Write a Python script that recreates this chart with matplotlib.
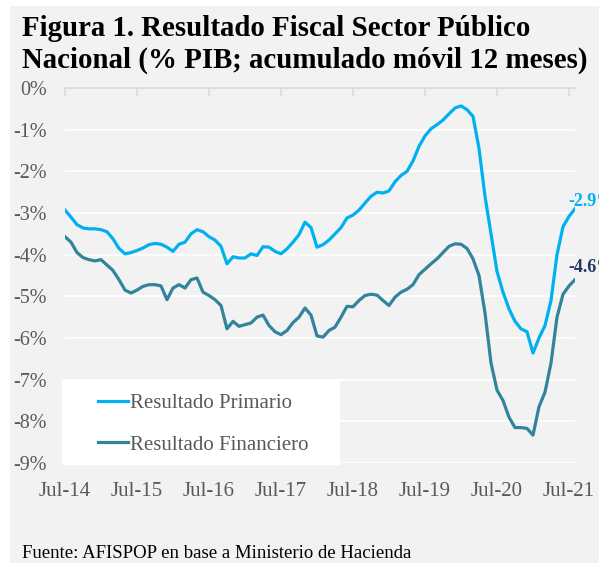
import matplotlib.pyplot as plt
import matplotlib as mpl
import numpy as np
from matplotlib.patches import Rectangle

plt.rcParams['font.family'] = ['Liberation Serif', 'DejaVu Serif']
plt.rcParams['axes.unicode_minus'] = False

# monthly, Jul-14 .. Aug-21 (% of GDP, 12-month rolling)
primario = [-2.93, -3.10, -3.28, -3.36, -3.38, -3.38, -3.40, -3.45, -3.62, -3.85,
            -3.98, -3.95, -3.90, -3.84, -3.76, -3.73, -3.75, -3.82, -3.92, -3.75,
            -3.70, -3.50, -3.40, -3.45, -3.57, -3.65, -3.80, -4.22, -4.05, -4.08,
            -4.08, -3.98, -4.02, -3.81, -3.82, -3.92, -3.98, -3.86, -3.70, -3.52,
            -3.22, -3.35, -3.82, -3.76, -3.65, -3.50, -3.35, -3.12, -3.05, -2.93,
            -2.76, -2.60, -2.50, -2.52, -2.47, -2.25, -2.10, -2.00, -1.75, -1.40,
            -1.15, -0.98, -0.88, -0.77, -0.62, -0.48, -0.43, -0.52, -0.68, -1.45,
            -2.60, -3.50, -4.40, -4.90, -5.30, -5.60, -5.78, -5.85, -6.36, -6.00,
            -5.70, -5.10, -4.00, -3.33, -3.08, -2.90]
financiero = [-3.57, -3.70, -3.95, -4.07, -4.12, -4.15, -4.12, -4.25, -4.38, -4.60,
              -4.85, -4.92, -4.85, -4.76, -4.72, -4.72, -4.75, -5.08, -4.80, -4.72,
              -4.80, -4.60, -4.56, -4.90, -4.98, -5.08, -5.22, -5.78, -5.60, -5.72,
              -5.68, -5.64, -5.50, -5.45, -5.70, -5.85, -5.92, -5.82, -5.63, -5.50,
              -5.28, -5.45, -5.95, -5.98, -5.82, -5.74, -5.50, -5.24, -5.25, -5.10,
              -4.98, -4.95, -4.97, -5.10, -5.22, -5.02, -4.90, -4.83, -4.72, -4.48,
              -4.35, -4.22, -4.10, -3.95, -3.80, -3.74, -3.75, -3.85, -4.10, -4.50,
              -5.40, -6.60, -7.25, -7.50, -7.90, -8.15, -8.15, -8.17, -8.33, -7.65,
              -7.30, -6.60, -5.50, -4.95, -4.75, -4.60]
tick_labels = ['Jul-14', 'Jul-15', 'Jul-16', 'Jul-17', 'Jul-18', 'Jul-19', 'Jul-20', 'Jul-21']
y_ticks = list(range(0, -10, -1))
end_labels = ['-2.9%', '-4.6%']

c_prim = '#00b0f0'
c_fin = '#31849b'
c_txt = '#595959'
W, H = 599, 563

fig = plt.figure(figsize=(W / 100, H / 100), dpi=100)
fig.patches.append(Rectangle((10 / W, 0), 1, 1 - 6 / H, transform=fig.transFigure,
                             facecolor='#f2f2f2', edgecolor='none', zorder=-10))

ax = fig.add_axes([65 / W, 1 - 463 / H, 510 / W, 375 / H])
ax.set_facecolor('none')

x = np.arange(len(primario))
l1, = ax.plot(x, primario, color=c_prim, lw=2.3, solid_joinstyle='round', zorder=3)
l2, = ax.plot(x, financiero, color=c_fin, lw=2.3, solid_joinstyle='round', zorder=3)

ax.set_xlim(0, len(x) - 1)
ax.set_ylim(-9, 0)
ax.set_yticks(y_ticks)
ax.set_yticklabels([f'{v}%' for v in y_ticks], fontsize=14.5, color=c_txt)
ax.set_xticks(np.arange(len(tick_labels)) * 12)
ax.set_xticklabels(tick_labels, fontsize=15, color=c_txt)

for v in y_ticks[1:]:
    ax.axhline(v, color='white', lw=1.3, zorder=1)

for s in ['left', 'right', 'bottom']:
    ax.spines[s].set_visible(False)
ax.spines['top'].set_color('#d9d9d9')
ax.spines['top'].set_linewidth(1.2)
ax.tick_params(axis='y', length=0, pad=13)
ax.tick_params(axis='x', top=True, bottom=False, labeltop=False, labelbottom=True,
               direction='in', length=6, width=1.2, color='#d9d9d9', pad=14)

# end-of-series labels (cut by the right edge, as in the source)
ax.annotate(end_labels[0], xy=(x[-1], primario[-1]), xytext=(-4.5, 5.5),
            textcoords='offset points', color=c_prim, fontsize=13, fontweight='bold',
            va='center', ha='left', annotation_clip=False)
ax.annotate(end_labels[1], xy=(x[-1], financiero[-1]), xytext=(-4.5, 8.5),
            textcoords='offset points', color='#1f3864', fontsize=13, fontweight='bold',
            va='center', ha='left', annotation_clip=False)

# legend box
fig.patches.append(Rectangle((62 / W, 1 - 465 / H), 278 / W, 85 / H, transform=fig.transFigure,
                             facecolor='white', edgecolor='none', zorder=5))
leg = fig.legend([l1, l2], ['Resultado Primario', 'Resultado Financiero'],
                 loc='center left', bbox_to_anchor=(98 / W, 1 - 424 / H),
                 frameon=False, fontsize=15, handlelength=1.45, handletextpad=0.1,
                 borderpad=0, borderaxespad=0, labelspacing=1.05)
leg.set_zorder(6)
for t in leg.get_texts():
    t.set_color(c_txt)

fig.text(22 / W, 1 - 36 / H, 'Figura 1. Resultado Fiscal Sector Público',
         fontsize=20.8, fontweight='bold', va='baseline', ha='left')
fig.text(22 / W, 1 - 68 / H, 'Nacional (% PIB; acumulado móvil 12 meses)',
         fontsize=20.8, fontweight='bold', va='baseline', ha='left')
fig.text(22 / W, 1 - 558 / H, 'Fuente: AFISPOP en base a Ministerio de Hacienda',
         fontsize=13.5, va='baseline', ha='left')

fig.savefig('out.png', dpi=100)
